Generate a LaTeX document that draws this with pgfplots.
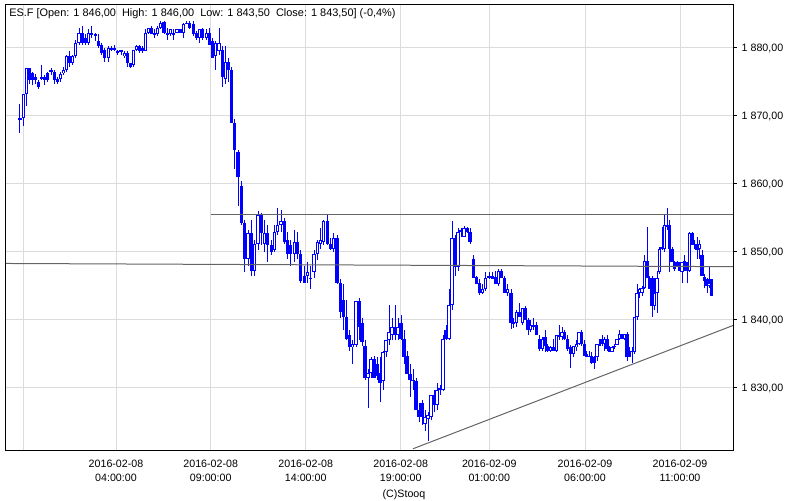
\documentclass[border=0pt]{standalone}
\usepackage{fontspec}
\setmainfont{Liberation Sans}
\usepackage{pgfplots}
\usepackage{pgfplotstable}
\pgfplotsset{compat=1.18}
\definecolor{gridc}{RGB}{220,220,220}
\definecolor{linec}{RGB}{100,100,100}
\definecolor{cblue}{RGB}{0,0,255}

\pgfplotstableread{
x o h l c
20.0 1869.5 1871.75 1867.5 1869.75
23.1 1869.75 1873.25 1868.5 1873.25
26.2 1873.25 1877 1871.5 1877
41.7 1875.5 1877.5 1875.25 1875.75
51.0 1876.5 1877 1876 1876.75
60.3 1875.5 1876.5 1875 1876.25
63.4 1876.25 1877.25 1876 1876.75
66.5 1876.75 1879 1876.5 1878.75
72.7 1877.75 1879 1877.5 1878.75
75.8 1878.75 1881.25 1878.5 1880.75
79.0 1880.75 1883 1880.5 1882.25
88.7 1880.75 1882.75 1880.5 1882.25
91.9 1882 1883.25 1881.5 1882.25
108.1 1878.5 1880.25 1878 1880
114.5 1879.75 1880.5 1879.5 1880
124.1 1878.75 1879.5 1878.5 1879.25
133.3 1877.5 1879.75 1877.25 1879.75
136.4 1879.75 1880.5 1879.5 1880.25
145.6 1879.5 1882.75 1879.5 1882.25
148.6 1882.25 1883 1882 1883
154.8 1882 1882.75 1881.5 1882.25
157.8 1882 1883.25 1881.75 1883
160.9 1883 1884 1882.75 1883.75
170.5 1882 1882.75 1881.75 1882.75
177.0 1882.25 1882.75 1882.25 1882.75
183.4 1882.25 1883.75 1881.5 1883.5
186.7 1883.5 1884 1883.5 1883.75
199.6 1881.5 1882.75 1880.75 1882.75
206.1 1881.5 1882.75 1881.25 1882.25
215.8 1878.75 1881 1876.75 1880.75
219.0 1879.5 1883 1879 1880.75
225.3 1875.5 1880.25 1874.75 1878
248.0 1849 1853.25 1848 1852.75
254.7 1847.25 1851.75 1846.5 1851.25
258.0 1851.25 1856 1850.25 1855.5
264.6 1851.25 1854.75 1850 1852.75
274.5 1850.25 1854 1850 1853
277.8 1853 1856.5 1852.5 1854
281.0 1854 1856.25 1853 1854.5
294.2 1849.75 1853.25 1848.5 1851.5
307.4 1846.5 1848.5 1845.5 1847
310.7 1846 1848 1844.5 1846.25
314.0 1847 1850.25 1846.25 1849.75
317.3 1849.75 1851.75 1848.75 1851.5
320.6 1851.25 1853.5 1850.5 1851.75
323.9 1851.5 1854.75 1851 1854.5
333.7 1850.5 1852.75 1850 1852
352.8 1836 1837 1833.5 1836.5
356.0 1836.25 1842.75 1836 1842.75
368 1831.5 1832.75 1827 1832.25
371 1832.25 1834.5 1831.5 1834.25
383 1831 1835.5 1829.75 1835.25
386 1835.25 1837 1834.5 1837
389 1837 1842.25 1836.25 1838.25
392 1837.75 1840.25 1837 1839
398 1837.75 1840.25 1837 1839
425 1824.75 1826.75 1823.75 1825.75
428 1825.5 1826.5 1822.25 1826
431 1825.75 1829 1825.25 1829
437 1827.5 1830.75 1826.75 1829.75
440 1829.75 1830.5 1829 1830
443 1829.75 1837.75 1829.5 1837.25
449 1837.25 1844.5 1837 1842.25
452 1842.25 1854.5 1841.5 1852
458 1847.75 1853.5 1847.25 1853
461 1853 1853.5 1852.25 1853.25
464 1852.25 1853.75 1852.25 1853.5
482.7 1844 1845.25 1843.75 1844.5
485.9 1844.5 1847 1844.25 1846.25
489.0 1846.25 1847 1846 1846.5
498.4 1845.25 1847.5 1845 1847.25
507.9 1844 1845.25 1843.5 1844.5
513.8 1839.5 1840.25 1838.75 1839.75
516.7 1839.5 1841.5 1839 1841.25
522.3 1839.5 1841.75 1839.25 1841.75
530.8 1838.5 1840 1838.25 1839.25
533.7 1839 1840.25 1838.5 1839.25
542.1 1835.75 1837.5 1835.5 1837.25
550.6 1835.5 1836.25 1835.25 1836
556.3 1835.5 1837.75 1835.25 1837.75
559.1 1837.5 1839.25 1837 1837.75
562.0 1837.5 1839 1837 1838.25
573.3 1835 1836.25 1834.5 1836.25
576.1 1836 1837 1835.5 1836.5
579.0 1836.5 1838.25 1836.25 1838.25
589.3 1834.5 1835.5 1834.5 1834.75
597.0 1834.5 1836.5 1834 1836.5
599.5 1836.25 1837.25 1836.25 1836.5
604.5 1836.5 1837.5 1835.5 1837.25
612.0 1835.25 1836.25 1835.25 1836
617.0 1836.25 1837.25 1836.25 1837.25
619.5 1837.25 1838.5 1837 1838
624.5 1837.25 1838 1837 1838
634.5 1835.25 1840.5 1835 1840.5
637.0 1840.5 1845.25 1840 1844
639.5 1844 1844.75 1843.25 1844.5
642.0 1844 1845 1843.5 1844.75
644.5 1844.75 1849.5 1844.5 1848.75
654.5 1842 1846.25 1841.5 1844
657.0 1844 1847.25 1841 1846.25
659.5 1847 1850.75 1846.75 1850.5
664.5 1850.5 1855.5 1850 1854
667.0 1853.75 1856.5 1853.25 1854
682.0 1847 1848.5 1845.5 1848.5
689.5 1847.25 1853 1847 1852.75
694.5 1851 1851.75 1850.5 1851.25
699.5 1850.5 1851.75 1849 1851.25
709.0 1845 1848 1844.75 1845.5
}\up

\pgfplotstableread{
x o h l c
29.3 1877 1877 1874.75 1875.25
32.4 1876.25 1876.5 1874.5 1875.25
35.5 1875.75 1876.25 1874.75 1875.25
38.6 1875 1875.25 1874 1874.25
44.8 1875.75 1876 1874.5 1875.25
47.9 1876.25 1876.5 1875 1875.25
54.1 1876.5 1876.75 1874.75 1875.25
57.2 1875.5 1875.75 1874.75 1875
69.6 1878.75 1879.5 1877.25 1877.75
82.2 1882.25 1883.25 1880.5 1880.75
85.5 1881.5 1882 1880.5 1880.75
95.2 1882 1882.25 1881 1881.75
98.4 1881 1882 1880 1880.25
101.6 1880.5 1880.75 1879 1879.25
104.8 1879.75 1880 1878 1878.5
111.3 1880 1880.25 1879.5 1879.75
117.8 1879.5 1879.75 1879 1879.25
121.0 1879.75 1879.75 1879 1879.5
127.1 1879.25 1879.5 1877.25 1877.75
130.2 1877.75 1877.75 1877 1877.25
139.4 1880.25 1880.5 1879.25 1879.5
142.5 1880 1880.25 1879.25 1879.5
151.7 1883 1883.25 1882 1882
164.0 1883.75 1884 1882 1882.25
167.2 1882.25 1883 1881.25 1882
173.7 1882.25 1882.75 1881.25 1882
180.2 1882.75 1882.75 1882.25 1882.25
189.9 1883.75 1884 1882.75 1883
193.2 1883.5 1884 1881.75 1882
196.4 1882.25 1882.5 1881.25 1881.5
202.9 1882.75 1883 1881.25 1881.5
209.4 1882.25 1883 1880.5 1880.5
212.6 1881 1881.5 1878.5 1878.5
222.2 1879.75 1880.25 1874.25 1875.75
228.5 1878 1878.5 1875 1876.75
231.7 1876.75 1877.25 1869 1869
234.8 1869 1869.5 1862.25 1865
238.0 1864.75 1865 1856.75 1861
241.3 1859.75 1860.5 1854 1854.25
244.7 1854.25 1854.75 1847 1849
251.3 1852.75 1854.75 1846.5 1847.25
261.3 1855.5 1855.75 1851 1852.75
267.9 1852.75 1854 1848.5 1851
271.2 1851 1851.75 1849.5 1850
284.3 1854.5 1855 1851.25 1851.5
287.6 1851.75 1853 1849 1849.75
290.9 1851 1851.75 1848 1849.75
297.5 1851.5 1853 1849 1849.75
300.8 1849.75 1850.25 1845.5 1845.75
304.1 1846.5 1848 1845.5 1845.5
327.2 1854.5 1855.5 1851 1851.25
330.4 1851.25 1852 1850.25 1850.5
337.0 1852 1852.5 1845.25 1845.5
340.2 1845.5 1846 1840.25 1841.25
343.3 1843 1845.25 1838.5 1840.5
346.5 1840.5 1843 1837 1837.25
349.7 1837.75 1838.5 1835.5 1836
359 1842.75 1843.25 1837 1839
362 1839.5 1840.25 1836.25 1836.75
365 1836.25 1837 1831.25 1831.5
374 1834.25 1834.75 1831.5 1831.5
377 1833.5 1834.5 1831.25 1831.75
380 1832.25 1834.5 1828 1830.75
395 1839 1842.25 1837 1837.75
401 1839.5 1840.75 1837 1837.25
404 1837.25 1838.5 1833.5 1834.5
407 1834.75 1835.5 1832 1832
410 1832 1833.5 1828.75 1831.25
413 1831.25 1832.75 1829.75 1831
416 1831 1831.5 1826.75 1826.75
419 1826.75 1827.75 1825 1825.75
422 1827.75 1828.25 1824.5 1825.75
434 1829 1829.75 1826.5 1827.5
446 1838.5 1839.25 1837 1837.25
455 1852 1852.5 1846.5 1847.75
467 1853.5 1853.75 1852.75 1853
470 1853 1853.5 1851.25 1851.5
473.3 1849 1849.5 1846.25 1846.25
476.4 1846.25 1846.5 1845.25 1845.25
479.6 1845.5 1846 1843.75 1844
492.1 1846.5 1847 1846 1846
495.3 1846.25 1847.25 1845.25 1845.25
501.6 1847.25 1847.5 1846.25 1846.25
504.7 1846.25 1846.5 1844 1844
511.0 1844 1844.5 1838.75 1839.5
519.5 1841.25 1842.5 1840.5 1840.5
525.2 1841.75 1842 1840 1840
528.0 1840 1840.25 1837.75 1838.5
536.5 1839.25 1839.75 1837.75 1837.75
539.3 1837.25 1837.75 1835.5 1835.75
545.0 1837.5 1838.5 1835.25 1836.25
547.8 1836.25 1836.5 1835.25 1835.5
553.5 1836 1837.25 1835.5 1835.5
564.8 1838.25 1838.5 1837 1837.25
567.6 1837.25 1837.75 1835.5 1835.75
570.5 1836 1836.25 1833 1835
581.6 1838.25 1838.5 1836.25 1836.5
584.1 1836.5 1837 1834.75 1834.75
586.7 1835 1835.5 1834.5 1834.5
591.9 1834.75 1835.25 1833.5 1833.75
594.4 1834.5 1834.75 1832.75 1833.75
602.0 1837.25 1837.75 1836.25 1836.5
607.0 1837.25 1837.75 1835.5 1835.75
609.5 1836 1836.25 1835.25 1835.25
614.5 1836.25 1836.5 1835.75 1836
622.0 1838 1838 1837.25 1837.25
627.0 1838 1838.25 1834 1834.5
629.5 1835.5 1836 1834.5 1834.5
632.0 1835.5 1836 1833.75 1835.25
647.0 1848.75 1853.75 1846.25 1846.25
649.5 1846.25 1846.5 1844.5 1844.5
652.0 1846.25 1846.5 1840.5 1842
662.0 1850.75 1853.75 1850.25 1850.5
669.5 1854 1854.75 1847 1850.5
672.0 1850.5 1850.75 1848.5 1848.5
674.5 1848.5 1848.75 1847.25 1847.5
677.0 1848.5 1848.75 1847.75 1848
679.5 1848 1848.5 1847.25 1847.25
684.5 1848.75 1849.5 1847.25 1847.25
687.0 1848.5 1848.5 1845.5 1847.25
692.0 1852.75 1853 1851 1851
697.0 1851.25 1852.25 1849 1850.25
702.0 1849.5 1850.25 1846.5 1846.5
704.5 1846.25 1846.75 1844.75 1845.75
707.0 1846 1846.25 1844 1845
711.5 1846 1846 1843.5 1843.5
}\down

\pgfplotsset{
  wick/.style={draw=none, mark=none, forget plot,
    error bars/.cd, y dir=both, y explicit, error mark=none,
    error bar style={draw=cblue, line width=0.75pt}},
  body/.style={draw=none, mark=none, forget plot,
    error bars/.cd, y dir=both, y explicit, error mark=none,
    error bar style={#1}},
}

\begin{document}
\begin{tikzpicture}
\path[use as bounding box] (-4.5pt,-37.5pt) rectangle (595.5pt,337.5pt);
\begin{axis}[
  at={(0pt,0pt)}, anchor=south west,
  scale only axis, width=545.25pt, height=333.75pt,
  xmin=6, xmax=733, ymin=1820.88, ymax=1886.32,
  axis line style={black, line width=0.75pt},
  xtick={116,210.7,305.7,400.7,489.3,585,680},
  xticklabels={{2016-02-08\\04:00:00},{2016-02-08\\09:00:00},{2016-02-08\\14:00:00},{2016-02-08\\19:00:00},{2016-02-09\\01:00:00},{2016-02-09\\06:00:00},{2016-02-09\\11:00:00}},
  extra x ticks={23.3}, extra x tick labels={},
  extra x tick style={grid=major},
  ytick={1830,1840,1850,1860,1870,1880},
  yticklabels={{1 830,00},{1 840,00},{1 850,00},{1 860,00},{1 870,00},{1 880,00}},
  yticklabel pos=right, ytick pos=right,
  xtick pos=bottom,
  grid=major, major grid style={gridc, line width=0.75pt},
  tick style={black, line width=0.75pt},
  tick align=outside, major tick length=3pt,
  xtick style={draw=none},
  xticklabel style={align=center, font=\fontsize{8}{10.5}\selectfont, yshift=-1pt},
  yticklabel style={font=\fontsize{8}{10}\selectfont},
]
% wicks
\addplot[wick] table[x=x, y expr={(\thisrow{h}+\thisrow{l})/2}, y error expr={(\thisrow{h}-\thisrow{l})/2}] {\down};
\addplot[wick] table[x=x, y expr={(\thisrow{h}+\thisrow{l})/2}, y error expr={(\thisrow{h}-\thisrow{l})/2}] {\up};
% bodies
\addplot[body={draw=cblue, line width=2.3pt}] table[x=x, y expr={(\thisrow{o}+\thisrow{c})/2}, y error expr={abs(\thisrow{o}-\thisrow{c})/2}] {\down};
\addplot[body={draw=cblue, line width=2.3pt}] table[x=x, y expr={(\thisrow{o}+\thisrow{c})/2}, y error expr={abs(\thisrow{o}-\thisrow{c})/2}] {\up};
\addplot[body={draw=white, line width=0.8pt}] table[x=x, y expr={(\thisrow{o}+\thisrow{c})/2}, y error expr={max((\thisrow{c}-\thisrow{o})/2-0.15,0)}] {\up};
% lines
\addplot[linec, line width=0.75pt, forget plot] coordinates {(211,1855.55) (733,1855.55)};
\addplot[linec, line width=0.75pt, forget plot] coordinates {(6,1848.31) (733,1847.84)};
\addplot[linec, line width=0.75pt, forget plot] coordinates {(413,1821.06) (733,1839.19)};
\end{axis}
\node[anchor=base west, font=\fontsize{8.2}{10}\selectfont, inner sep=0pt] at (2.25pt,324.75pt)
  {ES.F [Open: 1 846,00\ \ High: 1 846,00\ \ Low: 1 843,50\ \ Close: 1 843,50] (-0,4\%)};
\node[anchor=base, font=\fontsize{8}{10}\selectfont, inner sep=0pt] at (298.5pt,-35.25pt) {(C)Stooq};
\end{tikzpicture}
\end{document}
